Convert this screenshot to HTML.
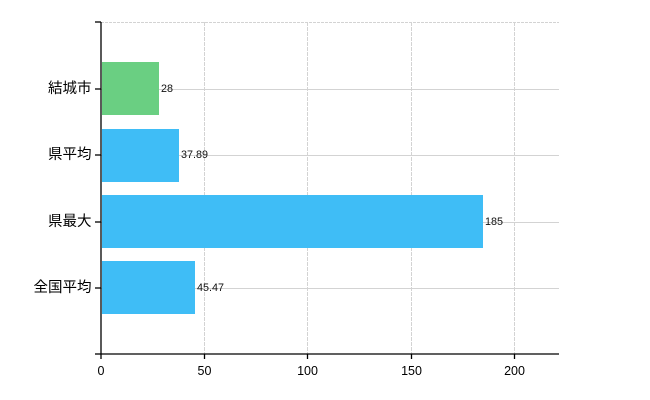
<!DOCTYPE html>
<html><head><meta charset="utf-8"><style>
html,body{margin:0;padding:0;background:#fff;}
svg{display:block;}
text{font-family:"Liberation Sans","Noto Sans CJK JP",sans-serif;}
</style></head><body>
<svg width="650" height="400" viewBox="0 0 650 400" xmlns="http://www.w3.org/2000/svg">
<rect width="650" height="400" fill="#fff"/>
<!-- grid -->
<g stroke="#d3d3d3" stroke-width="1">
<line x1="101" y1="22.5" x2="559" y2="22.5" stroke-dasharray="3,1"/>
<line x1="101" y1="89.5" x2="559" y2="89.5"/>
<line x1="101" y1="155.5" x2="559" y2="155.5"/>
<line x1="101" y1="222.5" x2="559" y2="222.5"/>
<line x1="101" y1="288.5" x2="559" y2="288.5"/>
<line x1="204.5" y1="22" x2="204.5" y2="354" stroke-dasharray="4,1"/>
<line x1="307.5" y1="22" x2="307.5" y2="354" stroke-dasharray="4,1"/>
<line x1="411.5" y1="22" x2="411.5" y2="354" stroke-dasharray="4,1"/>
<line x1="514.5" y1="22" x2="514.5" y2="354" stroke-dasharray="4,1"/>
</g>
<!-- bars -->
<rect x="102" y="62" width="57" height="53" fill="#6acf82"/>
<rect x="102" y="129" width="77" height="53" fill="#3fbdf6"/>
<rect x="102" y="195" width="381" height="53" fill="#3fbdf6"/>
<rect x="102" y="261" width="93" height="53" fill="#3fbdf6"/>
<!-- value labels -->
<g font-size="10.8" fill="#111" dominant-baseline="central">
<text x="161" y="89">28</text>
<text x="181" y="155">37.89</text>
<text x="485" y="222">185</text>
<text x="197" y="288">45.47</text>
</g>
<!-- axes -->
<g stroke="#000" stroke-width="1.3" fill="none">
<line x1="101" y1="22" x2="101" y2="354"/>
<line x1="101" y1="354" x2="559" y2="354"/>
<line x1="95" y1="22" x2="101" y2="22"/>
<line x1="95" y1="89" x2="101" y2="89"/>
<line x1="95" y1="155" x2="101" y2="155"/>
<line x1="95" y1="222" x2="101" y2="222"/>
<line x1="95" y1="288" x2="101" y2="288"/>
<line x1="95" y1="354" x2="101" y2="354"/>
<line x1="101" y1="354" x2="101" y2="359"/>
<line x1="204.5" y1="354" x2="204.5" y2="359"/>
<line x1="307.5" y1="354" x2="307.5" y2="359"/>
<line x1="411.5" y1="354" x2="411.5" y2="359"/>
<line x1="514.5" y1="354" x2="514.5" y2="359"/>
</g>
<g font-size="14.5" fill="#000" text-anchor="end" dominant-baseline="central">
<text x="91.5" y="89">結城市</text>
<text x="91.5" y="155">県平均</text>
<text x="91.5" y="222">県最大</text>
<text x="91.5" y="288">全国平均</text>
</g>
<g font-size="12.5" fill="#000" text-anchor="middle" dominant-baseline="central">
<text x="101" y="371">0</text>
<text x="204.5" y="371">50</text>
<text x="307.5" y="371">100</text>
<text x="411.5" y="371">150</text>
<text x="514.5" y="371">200</text>
</g>
</svg>
</body></html>
